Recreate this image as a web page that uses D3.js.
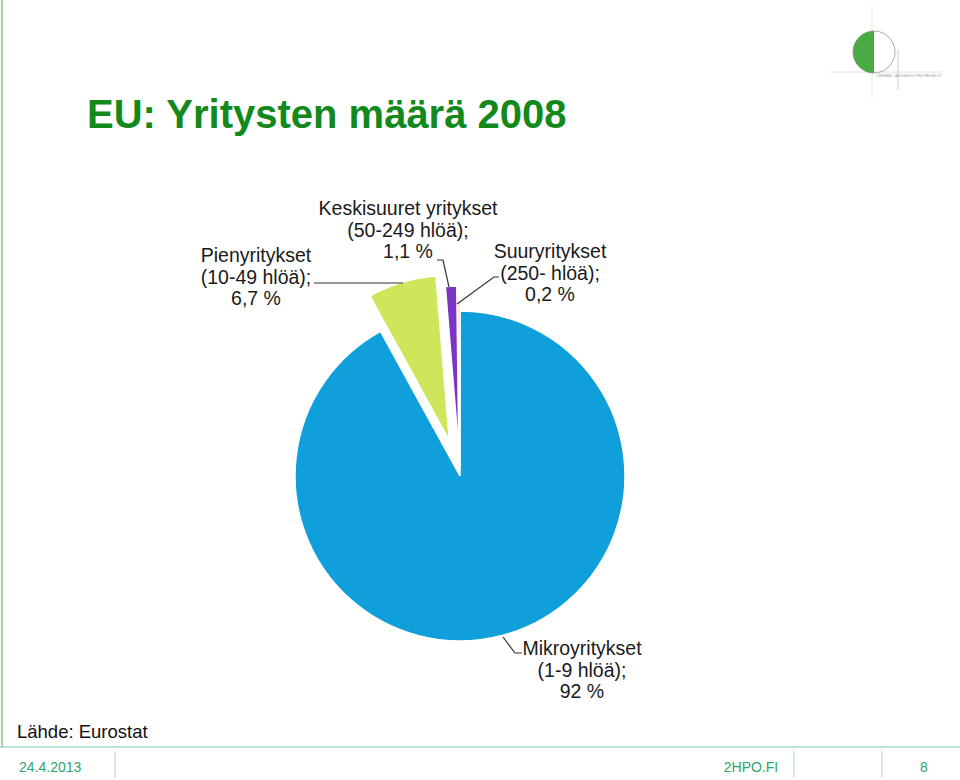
<html>
<script src="https://d3js.org/d3.v7.min.js"></script>
<style>
  body { margin: 0; background: white; }
  text { font-family: "Liberation Sans", Arial, sans-serif; }
</style>
<body>
<svg id="chart" width="960" height="780"></svg>
<script>
// data
const categories = ["Mikroyritykset", "Pienyritykset", "Keskisuuret yritykset", "Suuryritykset"];
const sizes = ["(1-9 hlöä);", "(10-49 hlöä);", "(50-249 hlöä);", "(250- hlöä);"];
const shares = [92, 6.7, 1.1, 0.2];
const shareLabels = ["92 %", "6,7 %", "1,1 %", "0,2 %"];
const explode = [0, 37, 25, 9];
const colors = ["#0f9fdb", "#cde65a", "#7b35c2", "#f5a340"];

var svg = d3.select("#chart");

// slide frame
svg.append("line").attr("x1", 2).attr("y1", 0).attr("x2", 2).attr("y2", 748)
  .attr("stroke", "#a9d29c").attr("stroke-width", 2);
svg.append("line").attr("x1", 0).attr("y1", 747).attr("x2", 960).attr("y2", 747)
  .attr("stroke", "#a8dcc6").attr("stroke-width", 1.5);
[115, 794, 882].forEach(function(x) {
  svg.append("line").attr("x1", x).attr("y1", 751).attr("x2", x).attr("y2", 778)
    .attr("stroke", "#c9e6da").attr("stroke-width", 1.5);
});
svg.append("text").attr("x", 19).attr("y", 772).attr("font-size", 14).attr("fill", "#2fa56c").text("24.4.2013");
svg.append("text").attr("x", 751).attr("y", 772).attr("text-anchor", "middle").attr("font-size", 14).attr("fill", "#2fa56c").text("2HPO.FI");
svg.append("text").attr("x", 924).attr("y", 772).attr("text-anchor", "middle").attr("font-size", 14).attr("fill", "#2fa56c").text("8");

// logo
var logo = svg.append("g");
logo.append("line").attr("x1", 872).attr("y1", 6).attr("x2", 872).attr("y2", 98).attr("stroke", "#e2e2e2");
logo.append("line").attr("x1", 830).attr("y1", 72).attr("x2", 942).attr("y2", 72).attr("stroke", "#e2e2e2");
logo.append("line").attr("x1", 898).attr("y1", 50).attr("x2", 898).attr("y2", 90).attr("stroke", "#cccccc");
logo.append("circle").attr("cx", 874).attr("cy", 52).attr("r", 21).attr("fill", "none").attr("stroke", "#aaaaaa");
logo.append("path").attr("d", d3.arc()({innerRadius: 0, outerRadius: 21, startAngle: Math.PI, endAngle: 2 * Math.PI}))
  .attr("transform", "translate(874,52)").attr("fill", "#4aaa44");
logo.append("text").attr("x", 876).attr("y", 77).attr("font-size", 3.5).attr("fill", "#999").text("LIIKENNE- JA KONSULTOINTIPALVELUT");

// title
svg.append("text").attr("x", 87).attr("y", 128).attr("font-size", 40).attr("font-weight", "bold")
  .attr("fill", "#13891b").text("EU: Yritysten määrä 2008");

// pie
var cx = 460, cy = 476, R = 165;
var pie = d3.pie().sort(null).value(function(d) { return d; });
var arcs = pie(shares);
var arc = d3.arc().innerRadius(0).outerRadius(R);
var g = svg.append("g").attr("transform", "translate(" + cx + "," + cy + ")");
g.selectAll("path").data(arcs).enter().append("path")
  .attr("d", arc)
  .attr("transform", function(d, i) {
    var a = (d.startAngle + d.endAngle) / 2;
    return "translate(" + (Math.sin(a) * explode[i]) + "," + (-Math.cos(a) * explode[i]) + ")";
  })
  .attr("fill", function(d, i) { return colors[i]; })
  .attr("stroke", "white").attr("stroke-width", 1.5);

// labels
var labelPos = [[582, 655], [256, 262], [408, 215], [550, 258]];
categories.forEach(function(c, i) {
  var t = svg.append("text").attr("text-anchor", "middle").attr("font-size", 19.5).attr("fill", "#1a1a1a");
  [c, sizes[i], shareLabels[i]].forEach(function(s, k) {
    t.append("tspan").attr("x", labelPos[i][0]).attr("y", labelPos[i][1] + k * 21.5).text(s);
  });
});

// leader lines
var leaders = [
  [[503, 637], [515, 653], [522, 653]],
  [[314, 283], [403, 283]],
  [[437, 260], [443, 260], [449, 287]],
  [[499, 277], [494, 277], [457, 304]]
];
var line = d3.line();
leaders.forEach(function(p) {
  svg.append("path").attr("d", line(p)).attr("fill", "none").attr("stroke", "#333").attr("stroke-width", 1.2);
});

svg.append("text").attr("x", 17).attr("y", 738).attr("font-size", 18.5).attr("fill", "#111").text("Lähde: Eurostat");
</script>
</body>
</html>
